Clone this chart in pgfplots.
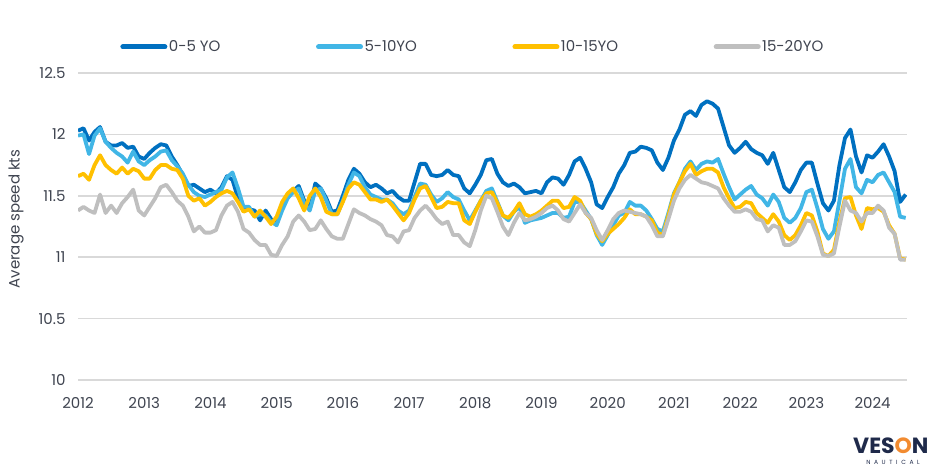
\documentclass[border=0pt]{standalone}
\usepackage{fontspec}
\setmainfont{Poppins}
\usepackage{pgfplots}
\usepackage{pgfplotstable}
\pgfplotsset{compat=1.18}
\definecolor{c1}{HTML}{0070C0}
\definecolor{c2}{HTML}{41B6E6}
\definecolor{c3}{HTML}{FFC000}
\definecolor{c4}{HTML}{BFBFBF}
\definecolor{txt}{HTML}{3F4450}
\definecolor{gridc}{HTML}{D9D9D9}
\definecolor{navy}{HTML}{1F2A4A}
\definecolor{orng}{HTML}{F28B30}
\pgfplotstableread{
i a b c d
0 12.03 11.99 11.66 11.38
1 12.05 12.00 11.68 11.41
2 11.95 11.84 11.63 11.38
3 12.02 11.99 11.75 11.36
4 12.06 12.05 11.83 11.51
5 11.94 11.94 11.75 11.36
6 11.91 11.89 11.71 11.42
7 11.91 11.85 11.68 11.36
8 11.93 11.82 11.73 11.44
9 11.89 11.77 11.68 11.49
10 11.90 11.86 11.72 11.55
11 11.82 11.78 11.70 11.38
12 11.80 11.75 11.64 11.34
13 11.85 11.79 11.64 11.41
14 11.89 11.82 11.71 11.48
15 11.92 11.86 11.75 11.57
16 11.91 11.87 11.75 11.59
17 11.82 11.79 11.72 11.53
18 11.75 11.74 11.71 11.46
19 11.67 11.68 11.64 11.42
20 11.58 11.59 11.50 11.33
21 11.59 11.53 11.46 11.21
22 11.56 11.50 11.48 11.25
23 11.53 11.49 11.42 11.20
24 11.55 11.51 11.45 11.20
25 11.52 11.53 11.49 11.22
26 11.57 11.55 11.52 11.34
27 11.66 11.65 11.54 11.42
28 11.63 11.69 11.52 11.45
29 11.48 11.56 11.45 11.37
30 11.38 11.41 11.37 11.23
31 11.39 11.41 11.39 11.20
32 11.38 11.33 11.33 11.14
33 11.30 11.35 11.38 11.10
34 11.38 11.34 11.33 11.10
35 11.31 11.29 11.27 11.02
36 11.27 11.26 11.33 11.01
37 11.41 11.38 11.45 11.10
38 11.50 11.48 11.52 11.17
39 11.54 11.53 11.56 11.29
40 11.58 11.56 11.48 11.34
41 11.46 11.44 11.38 11.29
42 11.39 11.38 11.50 11.22
43 11.60 11.54 11.56 11.23
44 11.56 11.56 11.49 11.30
45 11.48 11.46 11.37 11.23
46 11.37 11.35 11.35 11.17
47 11.38 11.35 11.35 11.15
48 11.50 11.46 11.45 11.15
49 11.63 11.59 11.56 11.27
50 11.72 11.69 11.61 11.39
51 11.68 11.66 11.59 11.36
52 11.61 11.57 11.53 11.34
53 11.57 11.51 11.47 11.31
54 11.59 11.49 11.47 11.29
55 11.56 11.47 11.45 11.26
56 11.52 11.47 11.47 11.18
57 11.54 11.44 11.42 11.17
58 11.49 11.38 11.36 11.12
59 11.46 11.35 11.30 11.21
60 11.46 11.38 11.36 11.22
61 11.61 11.49 11.47 11.32
62 11.76 11.60 11.56 11.38
63 11.76 11.59 11.58 11.42
64 11.67 11.51 11.49 11.37
65 11.66 11.45 11.40 11.31
66 11.67 11.48 11.41 11.27
67 11.71 11.53 11.45 11.29
68 11.67 11.49 11.44 11.18
69 11.66 11.47 11.44 11.18
70 11.56 11.38 11.30 11.12
71 11.52 11.30 11.27 11.09
72 11.59 11.38 11.37 11.22
73 11.67 11.46 11.46 11.38
74 11.79 11.54 11.52 11.50
75 11.80 11.56 11.53 11.48
76 11.68 11.45 11.44 11.37
77 11.61 11.34 11.34 11.25
78 11.58 11.30 11.32 11.18
79 11.60 11.37 11.37 11.28
80 11.57 11.41 11.44 11.36
81 11.52 11.28 11.35 11.30
82 11.53 11.30 11.33 11.31
83 11.54 11.31 11.35 11.33
84 11.52 11.32 11.38 11.36
85 11.61 11.34 11.42 11.40
86 11.65 11.36 11.46 11.42
87 11.64 11.36 11.46 11.38
88 11.59 11.32 11.40 11.31
89 11.67 11.33 11.41 11.29
90 11.78 11.45 11.49 11.36
91 11.81 11.45 11.46 11.43
92 11.72 11.38 11.36 11.36
93 11.61 11.31 11.31 11.32
94 11.43 11.18 11.19 11.22
95 11.40 11.10 11.13 11.14
96 11.49 11.18 11.19 11.22
97 11.57 11.26 11.23 11.31
98 11.68 11.34 11.27 11.36
99 11.75 11.36 11.32 11.38
100 11.85 11.45 11.39 11.37
101 11.86 11.42 11.35 11.36
102 11.90 11.42 11.35 11.35
103 11.89 11.38 11.33 11.33
104 11.87 11.31 11.30 11.26
105 11.77 11.23 11.20 11.17
106 11.71 11.21 11.18 11.17
107 11.81 11.36 11.34 11.31
108 11.95 11.52 11.51 11.46
109 12.04 11.61 11.61 11.56
110 12.16 11.72 11.70 11.63
111 12.19 11.78 11.76 11.67
112 12.15 11.71 11.67 11.64
113 12.24 11.76 11.70 11.61
114 12.27 11.78 11.72 11.60
115 12.25 11.77 11.72 11.58
116 12.21 11.80 11.69 11.56
117 12.06 11.68 11.57 11.48
118 11.91 11.57 11.48 11.42
119 11.85 11.47 11.40 11.37
120 11.89 11.51 11.41 11.37
121 11.94 11.55 11.45 11.39
122 11.88 11.58 11.44 11.37
123 11.85 11.51 11.36 11.31
124 11.83 11.48 11.32 11.30
125 11.76 11.42 11.28 11.21
126 11.85 11.51 11.35 11.26
127 11.71 11.45 11.29 11.24
128 11.57 11.32 11.18 11.10
129 11.53 11.28 11.14 11.10
130 11.61 11.32 11.18 11.13
131 11.71 11.40 11.26 11.21
132 11.77 11.53 11.36 11.30
133 11.77 11.55 11.34 11.29
134 11.60 11.40 11.21 11.17
135 11.44 11.23 11.03 11.02
136 11.38 11.15 11.01 11.01
137 11.46 11.21 11.06 11.03
138 11.75 11.46 11.29 11.25
139 11.97 11.72 11.48 11.46
140 12.04 11.80 11.49 11.38
141 11.82 11.57 11.34 11.36
142 11.69 11.52 11.23 11.29
143 11.83 11.63 11.40 11.36
144 11.81 11.61 11.39 11.36
145 11.86 11.67 11.40 11.42
146 11.92 11.69 11.37 11.38
147 11.82 11.61 11.26 11.24
148 11.70 11.53 11.19 11.19
149 11.45 11.33 10.99 10.98
150 11.51 11.32 10.98 10.98
}\speeds
\begin{document}
\begin{tikzpicture}[font=\fontsize{15bp}{18bp}\selectfont, text=txt]
\useasboundingbox (0,0) rectangle (940bp,470bp);
\begin{axis}[
  at={(78bp,90bp)}, anchor=south west,
  scale only axis, width=829bp, height=307bp,
  xmin=2012, xmax=2024.52, ymin=10, ymax=12.5,
  xtick={2012,2013,2014,2015,2016,2017,2018,2019,2020,2021,2022,2023,2024},
  ytick={10,10.5,11,11.5,12,12.5},
  /pgf/number format/assume math mode=true,
  /pgf/number format/1000 sep={},
  ymajorgrids, grid style={draw=gridc, line width=1.5bp},
  axis line style={draw=none}, major tick length=0pt,
  tick label style={font=\fontsize{15bp}{18bp}\selectfont, text=txt},
  xticklabel style={yshift=-14bp},
  yticklabel style={xshift=-9bp},
  ylabel={Average speed kts},
  every axis y label/.style={at={(rel axis cs:0,0.524)}, rotate=90, anchor=center, yshift=62bp, font=\fontsize{15bp}{18bp}\selectfont, text=txt},
  no markers,
  every axis plot/.append style={line width=3.8bp, line join=round},
  legend columns=4,
  legend style={at={(0.476,1.085)}, anchor=center, draw=none, fill=none,
    font=\fontsize{15bp}{18bp}\selectfont, text=txt,
    /tikz/every even column/.append style={column sep=94bp},
    nodes={inner sep=1.5bp}},
  legend image code/.code={\draw[#1, line width=5bp, line cap=round] (0bp,0bp) -- (42bp,0bp);},
]
\addplot[c1] table[x expr=2012+\thisrow{i}/12, y=a] {\speeds};
\addlegendentry{0-5 YO}
\addplot[c2] table[x expr=2012+\thisrow{i}/12, y=b] {\speeds};
\addlegendentry{5-10YO}
\addplot[c3] table[x expr=2012+\thisrow{i}/12, y=c] {\speeds};
\addlegendentry{10-15YO}
\addplot[c4] table[x expr=2012+\thisrow{i}/12, y=d] {\speeds};
\addlegendentry{15-20YO}
\end{axis}
\node[anchor=base west, inner sep=0, text=navy, font=\bfseries\fontsize{22bp}{22bp}\selectfont] at (853bp,17bp) {VES\textcolor{orng}{O}N};
\node[anchor=base, inner sep=0, text=navy, font=\fontsize{6bp}{6bp}\selectfont\addfontfeature{LetterSpace=60}] at (893bp,6bp) {NAUTICAL};
\end{tikzpicture}
\end{document}
